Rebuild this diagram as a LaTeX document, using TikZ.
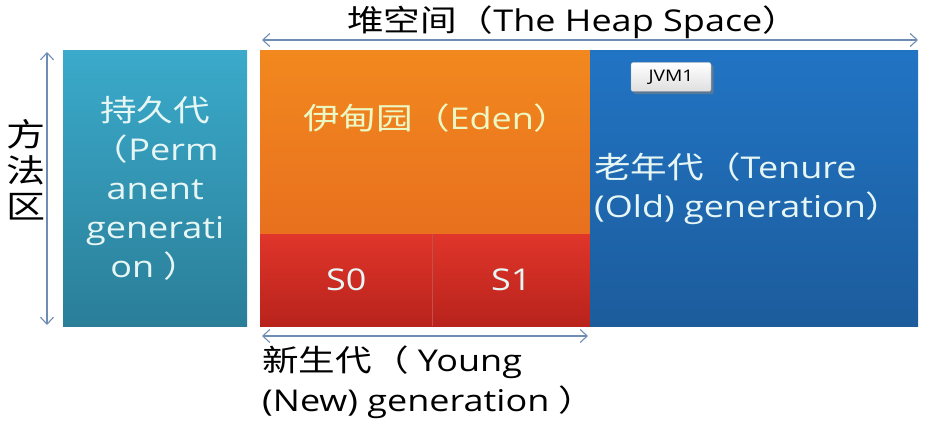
\documentclass[tikz,border=0pt]{standalone}
\usepackage{fontspec}
\setmainfont{Open Sans}[FakeStretch=1.2]
\newfontfamily\cjk{Noto Sans CJK SC}[FakeStretch=1.22]
\usetikzlibrary{arrows.meta,shadows}
\definecolor{permtop}{HTML}{3BAACB}
\definecolor{permbot}{HTML}{2A7E98}
\definecolor{edentop}{HTML}{F2881E}
\definecolor{edenbot}{HTML}{E8701E}
\definecolor{survtop}{HTML}{E0352A}
\definecolor{survbot}{HTML}{B8231C}
\definecolor{oldtop}{HTML}{2174C4}
\definecolor{oldbot}{HTML}{1C5C9C}
\definecolor{spanline}{HTML}{6F8DB4}
\definecolor{boxtext}{HTML}{E6F6F4}

\begin{document}
\begin{tikzpicture}[x=1pt,y=-1pt,
  genbox/.style={inner sep=0pt,anchor=north west,align=center,text=boxtext,
    font=\fontsize{30}{39}\selectfont},
  span/.style={draw=spanline,line width=1.1pt,{Straight Barb[length=7pt,width=13pt]}-{Straight Barb[length=7pt,width=13pt]}},
  caption/.style={inner sep=0pt,font=\fontsize{30}{40}\selectfont,text=black}]
  \useasboundingbox[fill=white] (0,0) rectangle (952,422);
  % memory areas
  \node[genbox,minimum width=184pt,minimum height=276pt,top color=permtop,bottom color=permbot] (perm) at (63,50)
    {{\cjk 持久代}\\{\cjk （}Perm\\anent\\generati\\on {\cjk ）}};
  \node[genbox,minimum width=330pt,minimum height=184pt,top color=edentop,bottom color=edenbot] (eden) at (260,50) {};
  \node[genbox,minimum width=172pt,minimum height=92pt,top color=survtop,bottom color=survbot] (szero) at (260,234) {S0};
  \node[genbox,minimum width=158pt,minimum height=92pt,top color=survtop,bottom color=survbot] (sone) at (432,234) {S1};
  \node[genbox,minimum width=328pt,minimum height=276pt,top color=oldtop,bottom color=oldbot] (old) at (590,50) {};
  \draw[survbot!80!white,line width=0.6pt] (sone.north west) -- (sone.south west);
  \node[genbox,anchor=west,text=boxtext!80!yellow] (edenlbl) at (303,118) {{\cjk 伊甸园（}Eden{\cjk ）}};
  \node[genbox,anchor=west,align=left] (oldlbl) at (594,189) {{\cjk 老年代（}Tenure\\(Old) generation{\cjk ）}};
  \node[draw=gray!70,rounded corners=2pt,top color=white,bottom color=gray!25,drop shadow={opacity=0.6},
    minimum width=80pt,minimum height=29pt,inner sep=0pt,font=\fontsize{16}{18}\selectfont] (jvm) at (671,77) {JVM1};
  % spans
  \coordinate (heapL) at (262,40);
  \coordinate (heapR) at (918,40);
  \draw[span] (heapL) -- (heapR);
  \node[caption] (heaplbl) at (573,22) {{\cjk 堆空间（}The Heap Space{\cjk ）}};
  \coordinate (methT) at (47,52);
  \coordinate (methB) at (47,325);
  \draw[span] (methT) -- (methB);
  \node[caption,align=center,font=\cjk\fontsize{32}{36}\selectfont] (methlbl) at (26,170) {方\\法\\区};
  \coordinate (youngL) at (262,336);
  \coordinate (youngR) at (588,336);
  \draw[span] (youngL) -- (youngR);
  \node[caption,anchor=west,align=left] (younglbl) at (262,382) {{\cjk 新生代（} Young\\(New) generation {\cjk ）}};
\end{tikzpicture}
\end{document}
